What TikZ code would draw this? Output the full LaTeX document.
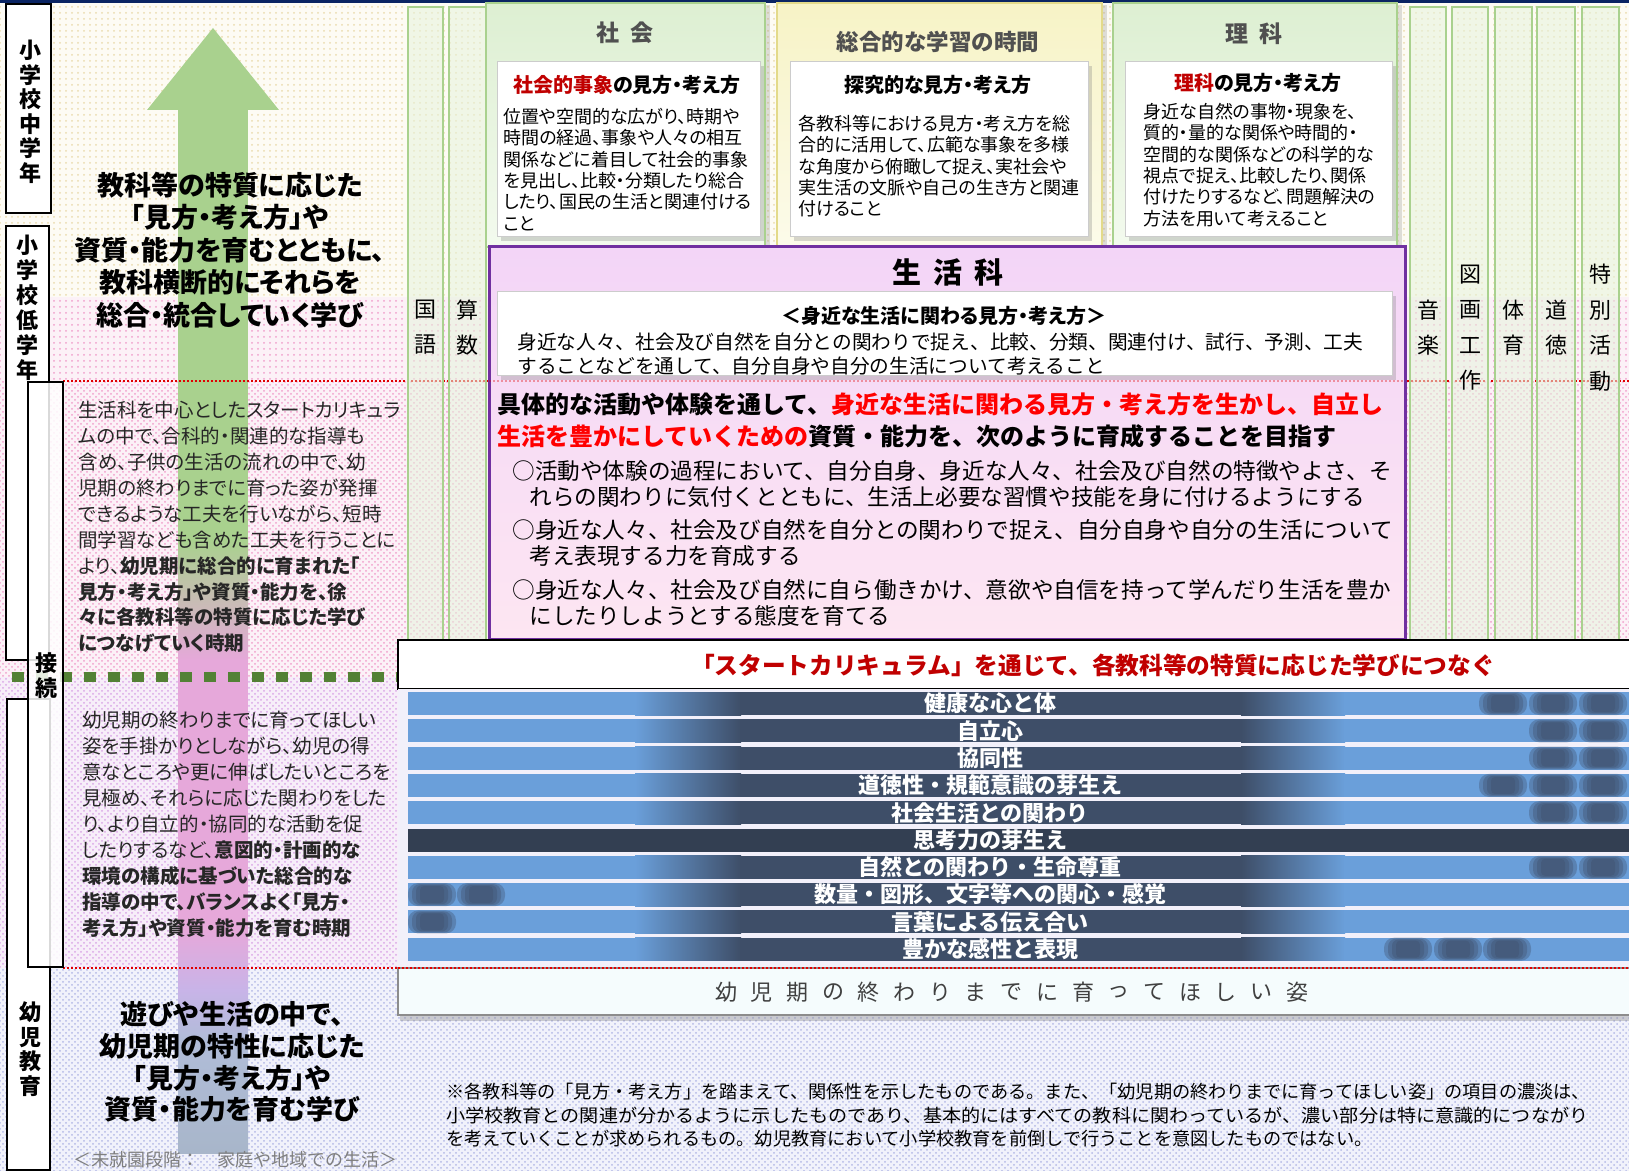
\documentclass[tikz,border=0pt]{standalone}
\usepackage{fontspec}
\usepackage{graphicx}
\setmainfont{Noto Sans CJK JP}
\newfontfamily\jpp{Noto Sans CJK JP}[RawFeature={+palt}]
\usetikzlibrary{patterns,shadows}

\definecolor{navybar}{HTML}{0A2463}
\definecolor{bgcream}{HTML}{FDFBF4}
\definecolor{dotcream}{HTML}{EADBAE}
\definecolor{bgpink}{HTML}{FCF1F7}
\definecolor{dotpink}{HTML}{F0A0CC}
\definecolor{bglav}{HTML}{F7EEF9}
\definecolor{dotlav}{HTML}{D9A6E6}
\definecolor{bgblue}{HTML}{F1F2FB}
\definecolor{dotblue}{HTML}{B4B9E6}
\definecolor{arrowgreen}{HTML}{A9D18E}
\definecolor{arrowpink}{HTML}{E6A8DA}
\definecolor{arrowlav}{HTML}{C8B4E8}
\definecolor{arrowblue}{HTML}{B0BCD8}
\definecolor{arrowgray}{HTML}{A8B6CA}
\definecolor{barblue}{HTML}{6A9FDA}
\definecolor{bardark}{HTML}{3E4E68}
\definecolor{barthink}{HTML}{333F52}
\definecolor{barbg}{HTML}{F2F0FA}
\definecolor{panelgreentop}{HTML}{DDEFD2}
\definecolor{panelgreenbot}{HTML}{F3FAEE}
\definecolor{panelgreenline}{HTML}{A9D18E}
\definecolor{panelyellowtop}{HTML}{F7F3C6}
\definecolor{panelyellowbot}{HTML}{FCFBEA}
\definecolor{panelyellowline}{HTML}{E3DA8A}
\definecolor{colgreenfill}{HTML}{E6F3DC}
\definecolor{seikatsutop}{HTML}{F3D5F7}
\definecolor{seikatsubot}{HTML}{FDE6F2}
\definecolor{purpleline}{HTML}{7030A0}
\definecolor{headred}{HTML}{C00000}
\definecolor{aimred}{HTML}{FF0000}
\definecolor{goalfill}{HTML}{F5FCFD}
\definecolor{notegray}{HTML}{7F7F7F}
\definecolor{textdark}{HTML}{262626}
\definecolor{titlegray}{HTML}{505050}
\definecolor{dashgreen}{HTML}{538135}
\definecolor{dotred}{HTML}{E00000}

% soft dark spot on a bar: centre x, bar top y
\newcommand{\barblob}[2]{%
  \fill[bardark, opacity=0.35, rounded corners=5pt] (#1-24,#2) rectangle (#1+24,#2+23);
  \fill[bardark, opacity=0.35, rounded corners=4pt] (#1-20,#2+1) rectangle (#1+20,#2+22);
  \fill[bardark, opacity=0.35, rounded corners=3pt] (#1-16,#2+2) rectangle (#1+16,#2+21);
  \fill[bardark, opacity=0.35, rounded corners=2pt] (#1-12,#2+3) rectangle (#1+12,#2+20);
}

\begin{document}
\begin{tikzpicture}[x=0.5pt,y=-0.5pt,
    stagebox/.style={draw=black, line width=1pt, fill=white},
    stagetext/.style={font=\bfseries\fontsize{11}{12.5}\selectfont, align=center, inner sep=0pt},
    subjcol/.style={draw=panelgreenline, line width=0.75pt, fill=colgreenfill, fill opacity=0.55},
    collabel/.style={font=\fontsize{11}{17.5}\selectfont, align=center, inner sep=0pt},
    panelgreen/.style={draw=panelgreenline, line width=0.6pt, top color=panelgreentop, bottom color=panelgreenbot, drop shadow={shadow xshift=2.5pt, shadow yshift=-1pt, opacity=0.25}},
    panelyellow/.style={draw=panelyellowline, line width=0.6pt, top color=panelyellowtop, bottom color=panelyellowbot, drop shadow={shadow xshift=2.5pt, shadow yshift=-1pt, opacity=0.25}},
    paneltitle/.style={font=\bfseries\fontsize{11.5}{13}\selectfont, text=titlegray},
    viewbox/.style={draw=black!20, line width=0.5pt, fill=white, drop shadow={shadow xshift=2pt, shadow yshift=-2pt, opacity=0.3}},
    viewhead/.style={font=\jpp\bfseries\fontsize{10}{12}\selectfont},
    viewbody/.style={font=\jpp\fontsize{9}{10.65}\selectfont, align=left, anchor=north west, inner sep=0pt},
    lefttext/.style={font=\jpp\fontsize{9.75}{12.95}\selectfont, align=left, anchor=north west, inner sep=0pt, text=textdark},
    learntext/.style={font=\jpp\bfseries\fontsize{13.5}{16.25}\selectfont, align=center, inner sep=0pt},
    bullettext/.style={font=\fontsize{11.3}{13.25}\selectfont, align=left, anchor=north west, inner sep=0pt},
    barlabel/.style={font=\bfseries\fontsize{11}{12}\selectfont, text=white, inner sep=0pt},
    goalchar/.style={font=\fontsize{11}{12}\selectfont, text=black!75, inner sep=0pt},
    reddots/.style={draw=dotred, line width=1pt, dash pattern=on 1pt off 1pt},
    greendash/.style={draw=dashgreen, line width=5pt, dash pattern=on 6pt off 6pt}]
    \useasboundingbox (0,0) rectangle (1629,1171);

    % background bands
    \fill[white] (0,0) rectangle (1629,1171);
    \fill[bgcream] (0,0) rectangle (1629,297);
    \fill[pattern=dots, pattern color=dotcream] (0,0) rectangle (1629,297);
    \fill[bgpink] (0,297) rectangle (1629,381);
    \fill[pattern=dots, pattern color=dotpink] (0,297) rectangle (1629,381);
    \fill[bgpink] (0,381) rectangle (1629,677);
    \fill[pattern=crosshatch dots, pattern color=dotpink] (0,381) rectangle (1629,677);
    \fill[bglav] (0,677) rectangle (1629,968);
    \fill[pattern=crosshatch dots, pattern color=dotlav] (0,677) rectangle (1629,968);
    \fill[bgblue] (0,968) rectangle (1629,1171);
    \fill[pattern=crosshatch dots, pattern color=dotblue] (0,968) rectangle (1629,1171);
    \fill[navybar] (0,0) rectangle (1629,3);

    % big arrow, green at the top turning pink and blue further down
    \fill[arrowgreen] (178,108) rectangle (248,541);
    \shade[top color=arrowgreen, bottom color=arrowpink] (178,540) rectangle (248,661);
    \fill[arrowpink] (178,660) rectangle (248,931);
    \shade[top color=arrowpink, bottom color=arrowlav] (178,930) rectangle (248,991);
    \shade[top color=arrowlav, bottom color=arrowblue] (178,990) rectangle (248,1041);
    \shade[top color=arrowblue, bottom color=arrowgray] (178,1040) rectangle (248,1153);
    \fill[arrowgreen] (213,28) -- (279,110) -- (147,110) -- cycle;

    % left texts
    \node (upperlearn) [learntext] at (230,250) {教科等の特質に応じた\\「見方・考え方」や\\資質・能力を育むとともに、\\教科横断的にそれらを\\総合・統合していく学び};
    \node (lowerlearn) [learntext, font=\jpp\bfseries\fontsize{13.5}{15.85}\selectfont] at (232,1062) {遊びや生活の中で、\\幼児期の特性に応じた\\「見方・考え方」や\\資質・能力を育む学び};
    \node (starttext) [lefttext] at (78,401) {生活科を中心としたスタートカリキュラ\\ムの中で、合科的・関連的な指導も\\含め、子供の生活の流れの中で、幼\\児期の終わりまでに育った姿が発揮\\できるような工夫を行いながら、短時\\間学習なども含めた工夫を行うことに\\より、{\bfseries 幼児期に総合的に育まれた「}\\{\bfseries 見方・考え方」や資質・能力を、徐}\\{\bfseries 々に各教科等の特質に応じた学び}\\{\bfseries につなげていく時期}};
    \node (approachtext) [lefttext] at (82,711) {幼児期の終わりまでに育ってほしい\\姿を手掛かりとしながら、幼児の得\\意なところや更に伸ばしたいところを\\見極め、それらに応じた関わりをした\\り、より自立的・協同的な活動を促\\したりするなど、{\bfseries 意図的・計画的な}\\{\bfseries 環境の構成に基づいた総合的な}\\{\bfseries 指導の中で、バランスよく「見方・}\\{\bfseries 考え方」や資質・能力を育む時期}};
    \node (preschool) [font=\fontsize{9}{10}\selectfont, text=notegray] at (235,1160) {＜未就園段階：　家庭や地域での生活＞};

    % boundary lines
    \draw[reddots] (63,381) -- (1629,381);
    \draw[reddots] (63,968) -- (1629,968);
    \draw[greendash] (12,677) -- (398,677);

    % stage boxes
    \draw[stagebox] (6,4) rectangle (51,213);
    \node (midgrade) [stagetext, font=\bfseries\fontsize{11}{12.25}\selectfont] at (30,112) {小\\学\\校\\中\\学\\年};
    \draw[stagebox] (6,226) rectangle (49,660);
    \node (lowgrade) [stagetext] at (28,307.5) {小\\学\\校\\低\\学\\年};
    \draw[stagebox] (7,699) rectangle (50,1170);
    \node (earlyedu) [stagetext, font=\bfseries\fontsize{11}{12.35}\selectfont] at (30,1049) {幼\\児\\教\\育};
    \draw[stagebox, fill opacity=0.85] (28,382) rectangle (63,967);
    \node (connect) [stagetext] at (46,675.5) {接\\続};

    % subject columns
    \draw[subjcol] (408,7) rectangle (443,640);
    \draw[subjcol] (449,7) rectangle (486,640);
    \draw[subjcol] (1410,7) rectangle (1446,640);
    \draw[subjcol] (1452,7) rectangle (1488,640);
    \draw[subjcol] (1495,7) rectangle (1532,640);
    \draw[subjcol] (1537,7) rectangle (1575,640);
    \draw[subjcol] (1582,7) rectangle (1619,640);
    \node (kokugo) [collabel] at (425.5,327.5) {国\\語};
    \node (sansu) [collabel] at (467.5,327.5) {算\\数};
    \node (ongaku) [collabel] at (1428,327.5) {音\\楽};
    \node (zuga) [collabel, font=\fontsize{11}{17.75}\selectfont] at (1470,327.5) {図\\画\\工\\作};
    \node (taiiku) [collabel] at (1513.5,327.5) {体\\育};
    \node (dotoku) [collabel] at (1556,327.5) {道\\徳};
    \node (tokkatsu) [collabel, font=\fontsize{11}{17.75}\selectfont] at (1600.5,327.5) {特\\別\\活\\動};

    % 社会
    \draw[panelgreen] (486,3) rectangle (765,247);
    \node (shakai) [paneltitle] at (625,33) {社\hspace{6pt}会};
    \draw[viewbox] (497,62) rectangle (760,237);
    \node (shakaihead) [viewhead] at (627,85) {\textcolor{headred}{社会的事象}の見方・考え方};
    \node (shakaibody) [viewbody] at (503,108) {位置や空間的な広がり、時期や\\時間の経過、事象や人々の相互\\関係などに着目して社会的事象\\を見出し、比較・分類したり総合\\したり、国民の生活と関連付ける\\こと};

    % 総合的な学習の時間
    \draw[panelyellow] (777,3) rectangle (1102,247);
    \node (sogo) [paneltitle, font=\bfseries\fontsize{11.25}{13}\selectfont] at (938,42) {総合的な学習の時間};
    \draw[viewbox] (790,62) rectangle (1088,237);
    \node (sogohead) [viewhead] at (938,85) {探究的な見方・考え方};
    \node (sogobody) [viewbody] at (798,115) {各教科等における見方・考え方を総\\合的に活用して、広範な事象を多様\\な角度から俯瞰して捉え、実社会や\\実生活の文脈や自己の生き方と関連\\付けること};

    % 理科
    \draw[panelgreen] (1113,3) rectangle (1397,247);
    \node (rika) [paneltitle] at (1254,34) {理\hspace{5.5pt}科};
    \draw[viewbox] (1125,62) rectangle (1392,237);
    \node (rikahead) [viewhead] at (1258,83) {\textcolor{headred}{理科}の見方・考え方};
    \node (rikabody) [viewbody] at (1143,103) {身近な自然の事物・現象を、\\質的・量的な関係や時間的・\\空間的な関係などの科学的な\\視点で捉え、比較したり、関係\\付けたりするなど、問題解決の\\方法を用いて考えること};

    % 生活科
    \draw[draw=purpleline, line width=1.5pt, top color=seikatsutop, bottom color=seikatsubot] (489,247) rectangle (1405,640);
    \node (seikatsu) [font=\bfseries\fontsize{14.5}{16}\selectfont] at (948,272) {生\hspace{6pt}活\hspace{6pt}科};
    \draw[viewbox] (497,292) rectangle (1392,376);
    \draw[reddots, opacity=0.35] (489,381) -- (1405,381);
    \node (seikatsuhead) [viewhead] at (944,316) {＜身近な生活に関わる見方・考え方＞};
    \node (seikatsubody) [font=\fontsize{9.85}{12}\selectfont, align=left, anchor=north west, inner sep=0pt] at (517,332) {身近な人々、社会及び自然を自分との関わりで捉え、比較、分類、関連付け、試行、予測、工夫\\することなどを通して、自分自身や自分の生活について考えること};
    \node (aim) [font=\bfseries\fontsize{12}{16}\selectfont, align=left, anchor=north west, inner sep=0pt] at (497,392) {具体的な活動や体験を通して、\textcolor{aimred}{身近な生活に関わる見方・考え方を生かし、自立し}\\\textcolor{aimred}{生活を豊かにしていくための}資質・能力を、次のように育成することを目指す};
    \node (aimone) [bullettext] at (512,459.7) {○活動や体験の過程において、自分自身、身近な人々、社会及び自然の特徴やよさ、そ\\\hspace{8.5pt}れらの関わりに気付くとともに、生活上必要な習慣や技能を身に付けるようにする};
    \node (aimtwo) [bullettext] at (512,518.7) {○身近な人々、社会及び自然を自分との関わりで捉え、自分自身や自分の生活について\\\hspace{8.5pt}考え表現する力を育成する};
    \node (aimthree) [bullettext] at (512,578.7) {○身近な人々、社会及び自然に自ら働きかけ、意欲や自信を持って学んだり生活を豊か\\\hspace{8.5pt}にしたりしようとする態度を育てる};

    % start curriculum
    \draw[draw=black, line width=1pt, fill=white, drop shadow={shadow xshift=2pt, shadow yshift=-2pt, opacity=0.3}] (398,640) rectangle (1640,689);
    \node (startcurr) [font=\bfseries\fontsize{11.85}{14}\selectfont, text=headred] at (1093,665) {「スタートカリキュラム」を通じて、各教科等の特質に応じた学びにつなぐ};

    % ten bars: light blue ends, dark middle
    \fill[barbg] (398,689) rectangle (1629,968);
    \foreach \t in {692,719.3,746.6,773.9,801.2,855.8,883.1,910.4,937.7} {
        \fill[barblue] (408,\t) rectangle (636,\t+23);
        \shade[left color=barblue, right color=bardark] (635,\t) rectangle (741,\t+23);
        \fill[bardark] (740,\t) rectangle (1242,\t+23);
        \shade[left color=bardark, right color=barblue] (1241,\t) rectangle (1345,\t+23);
        \fill[barblue] (1344,\t) rectangle (1629,\t+23);
    }
    \fill[barthink] (408,828.5) rectangle (1629,851.5);
    % 健康な心と体
    \barblob{1503}{692} \barblob{1553}{692} \barblob{1603}{692}
    % 自立心
    \barblob{1553}{719.3} \barblob{1603}{719.3}
    % 協同性
    \barblob{1553}{746.6} \barblob{1603}{746.6}
    % 道徳性
    \barblob{1503}{773.9} \barblob{1553}{773.9} \barblob{1603}{773.9}
    % 社会生活
    \barblob{1553}{801.2} \barblob{1603}{801.2}
    % 自然
    \barblob{1553}{855.8} \barblob{1603}{855.8}
    % 数量
    \barblob{432}{883.1} \barblob{481}{883.1}
    % 言葉
    \barblob{432}{910.4}
    % 豊かな感性
    \barblob{1408}{937.7} \barblob{1458}{937.7} \barblob{1507}{937.7}
    \node (bar0) [barlabel] at (990,703.5) {健康な心と体};
    \node (bar1) [barlabel] at (990,730.8) {自立心};
    \node (bar2) [barlabel] at (990,758.1) {協同性};
    \node (bar3) [barlabel] at (990,785.4) {道徳性・規範意識の芽生え};
    \node (bar4) [barlabel] at (990,812.7) {社会生活との関わり};
    \node (bar5) [barlabel] at (990,840) {思考力の芽生え};
    \node (bar6) [barlabel] at (990,867.3) {自然との関わり・生命尊重};
    \node (bar7) [barlabel] at (990,894.6) {数量・図形、文字等への関心・感覚};
    \node (bar8) [barlabel] at (990,921.9) {言葉による伝え合い};
    \node (bar9) [barlabel] at (990,949.2) {豊かな感性と表現};

    % goal box
    \draw[draw=black!45, line width=0.6pt, fill=goalfill, drop shadow={shadow xshift=1pt, shadow yshift=-3pt, opacity=0.35}] (398,968) rectangle (1640,1015);
    \draw[reddots] (398,968) -- (1629,968);
    \foreach \ch [count=\i from 0] in {幼,児,期,の,終,わ,り,ま,で,に,育,っ,て,ほ,し,い,姿}
        \node (goal\i) [goalchar] at (726+35.7*\i,992) {\ch};

    % note
    \node (note) [font=\fontsize{9.1}{11.75}\selectfont, align=left, anchor=north west, inner sep=0pt] at (446,1082.9) {※各教科等の「見方・考え方」を踏まえて、関係性を示したものである。また、「幼児期の終わりまでに育ってほしい姿」の項目の濃淡は、\\\scalebox{1.05}[1]{小学校教育との関連が分かるように示したものであり、基本的にはすべての教科に関わっているが、濃い部分は特に意識的につながり}\\を考えていくことが求められるもの。幼児教育において小学校教育を前倒しで行うことを意図したものではない。};
\end{tikzpicture}
\end{document}
